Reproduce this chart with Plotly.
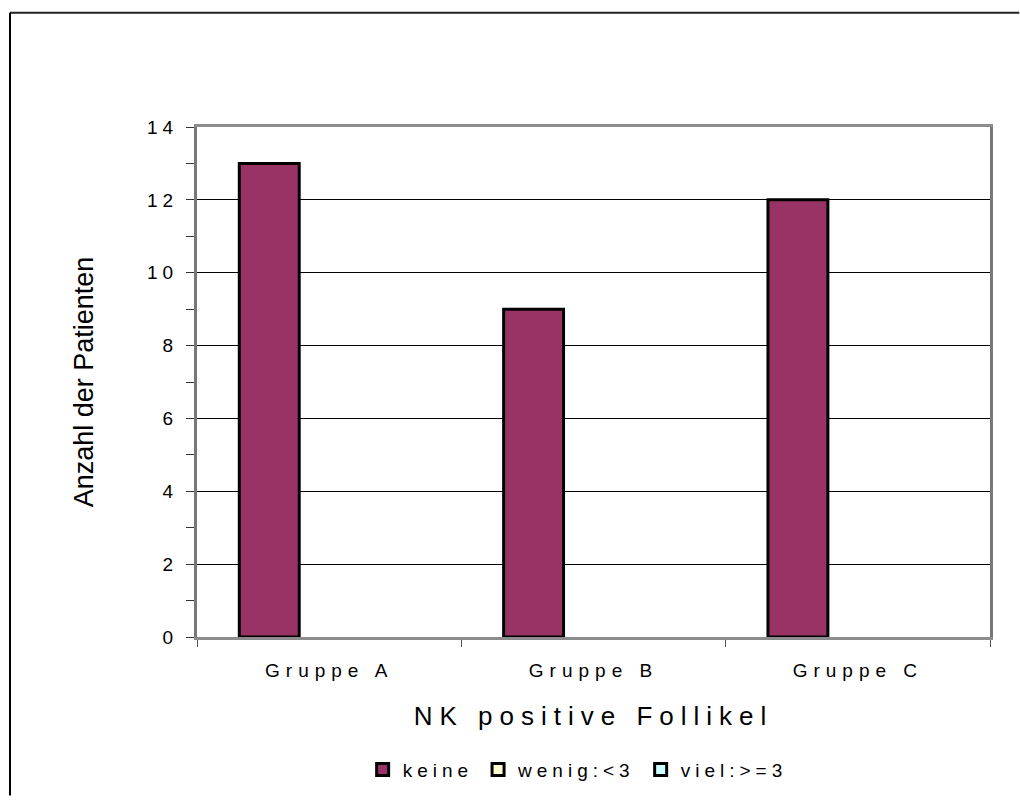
import plotly.graph_objects as go

# Data
groups = ["Gruppe A", "Gruppe B", "Gruppe C"]
keine = [13, 9, 12]
wenig = [0, 0, 0]
viel = [0, 0, 0]
series_names = ["keine", "wenig:&lt;3", "viel:&gt;=3"]
series_colors = ["#993366", "#FFFFCC", "#CCFFFF"]
y_tickvals = [0, 2, 4, 6, 8, 10, 12, 14]

FONT = "Arial, 'Liberation Sans', sans-serif"


def spaced(text, px):
    return f'<span style="letter-spacing:{px}px">{text}</span>'


fig = go.Figure()
for name, vals, color in zip(series_names, [keine, wenig, viel], series_colors):
    # empty (zero) bars are left undrawn so no outline shows on the base line
    fig.add_trace(go.Bar(
        x=groups, y=[v if v else None for v in vals], name=spaced(name, 5),
        marker=dict(color=color, line=dict(color="black", width=3)),
    ))

fig.update_layout(
    width=1020, height=800,
    margin=dict(l=197, r=30, t=127, b=160),
    paper_bgcolor="white", plot_bgcolor="white",
    font=dict(family=FONT, color="black"),
    barmode="group", bargap=0.32, bargroupgap=0,
    showlegend=True,
    legend=dict(
        orientation="h", x=0.48, xanchor="center", y=-0.26, yanchor="middle",
        font=dict(size=19), itemwidth=30, tracegroupgap=0,
    ),
)

fig.update_xaxes(
    type="category",
    tickvals=groups, ticktext=[spaced(g, 6) for g in groups],
    tickfont=dict(size=19),
    ticks="outside", tickson="boundaries", ticklen=7, tickcolor="#555", tickwidth=1,
    ticklabelstandoff=14,
    showline=True, linecolor="#8c8c8c", linewidth=3, mirror=True,
    showgrid=False,
    title=dict(text=spaced("NK positive Follikel", 7), font=dict(size=26), standoff=28),
)

fig.update_yaxes(
    range=[0, 14],
    tickvals=y_tickvals, ticktext=[spaced(str(v), 5) for v in y_tickvals],
    tickfont=dict(size=19),
    ticks="outside", ticklen=8, tickcolor="#333", tickwidth=1,
    ticklabelstandoff=4,
    minor=dict(dtick=1, tick0=0, ticks="outside", ticklen=8, tickcolor="#333", showgrid=False),
    showline=True, linecolor="#777", linewidth=3, mirror=True,
    showgrid=True, gridcolor="black", gridwidth=1, zeroline=False,
    title=dict(text="Anzahl der Patienten", font=dict(size=27), standoff=46),
)

# Outer chart frame: its top and left edges, running to the page border
fig.add_shape(
    type="line", xref="paper", yref="paper",
    x0=-0.2358, x1=1.037, y0=1.2242, y1=1.2242,
    line=dict(color="#222", width=2), layer="below",
)
fig.add_shape(
    type="line", xref="paper", yref="paper",
    x0=-0.2358, x1=-0.2358, y0=-0.311, y1=1.2242,
    line=dict(color="black", width=2), layer="below",
)

fig.write_html("out.html")
